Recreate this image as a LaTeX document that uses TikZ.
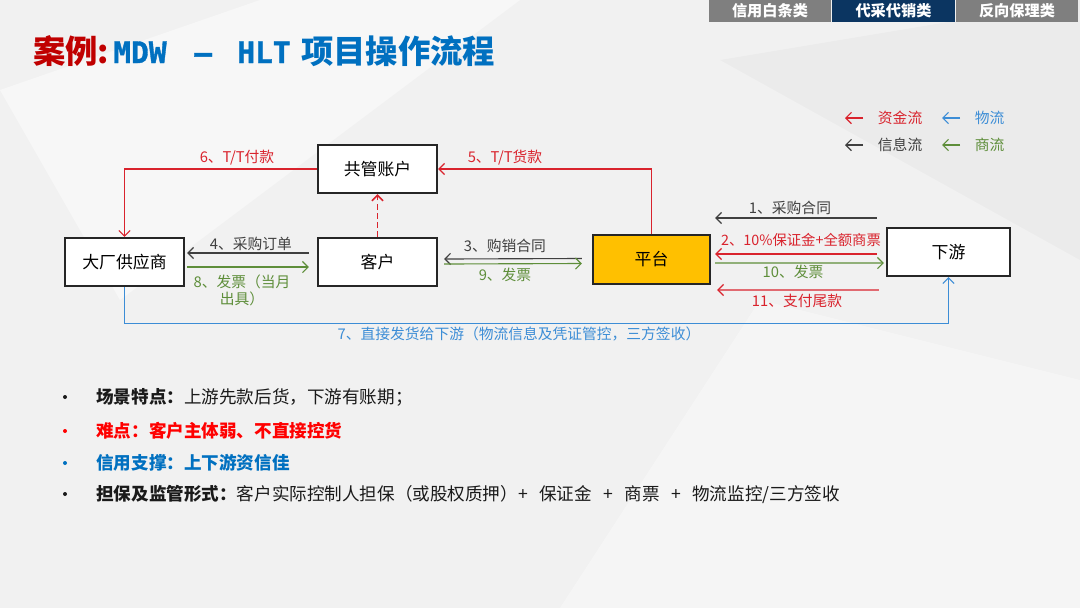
\documentclass[tikz,border=0pt]{standalone}
\usepackage{fontspec}
\setmainfont{Noto Sans CJK SC}
\newfontfamily\titlemono{DejaVu Sans Mono}[BoldFeatures={FakeBold=1.2}]
\usetikzlibrary{arrows.meta,calc,positioning}
\definecolor{bggray}{HTML}{F1F1F1}
\definecolor{tabgray}{HTML}{7F7F7F}
\definecolor{tabnavy}{HTML}{0B3561}
\definecolor{titlered}{HTML}{C00000}
\definecolor{titleblue}{HTML}{0070C0}
\definecolor{boxline}{HTML}{262626}
\definecolor{flowred}{HTML}{D9232D}
\definecolor{flowblue}{HTML}{3C8DD6}
\definecolor{flowgreen}{HTML}{5E8E3A}
\definecolor{flowgray}{HTML}{404040}
\definecolor{platyellow}{HTML}{FFC000}
\definecolor{textdark}{HTML}{1A1A1A}
\newcommand{\plusgap}{\hspace{0.65em}+\hspace{0.65em}}

\begin{document}
\begin{tikzpicture}[x=0.025cm,y=-0.025cm,>={Straight Barb[length=4pt,width=8pt]},
  every node/.style={font=\fontsize{10.5}{12}\selectfont},
  tabbox/.style={text=white,font=\fontsize{10.8}{12}\selectfont\bfseries,minimum width=3.05cm,minimum height=0.55cm,inner sep=0},
  titlepart/.style={anchor=base west,inner sep=0,font=\fontsize{23}{25}\selectfont\bfseries},
  monopart/.style={titlepart,font=\fontsize{21}{24}\selectfont\titlemono\bfseries},
  flowbox/.style={draw=boxline,line width=1.5pt,fill=white,minimum width=2.98cm,minimum height=1.2cm,font=\fontsize{12}{14}\selectfont},
  money/.style={draw=flowred,line width=0.8pt},
  logi/.style={draw=flowblue,line width=0.8pt},
  info/.style={draw=flowgray,line width=0.8pt},
  trade/.style={draw=flowgreen,line width=0.8pt},
  bulletline/.style={anchor=west,inner sep=0,font=\fontsize{12.5}{14}\selectfont}]
\useasboundingbox (0,0) rectangle (1080,608);
\fill[bggray] (0,0) rectangle (1080,608);
% faint facets of the slide background
\fill[white,opacity=0.45] (0,90) -- (260,0) -- (520,0) -- (120,300) -- cycle;
\fill[white,opacity=0.35] (560,608) -- (760,300) -- (1080,380) -- (1080,608) -- cycle;
\fill[black,opacity=0.025] (720,60) -- (1080,0) -- (1080,260) -- cycle;

% tabs
\node[tabbox,fill=tabgray] (tabcredit) at (770,11) {信用白条类};
\node[tabbox,fill=tabnavy] (tabproxy) at (893.5,11) {代采代销类};
\node[tabbox,fill=tabgray] (tabfactor) at (1017,11) {反向保理类};

% title
\node[titlepart,text=titlered] (titlecase) at (33,63) {案例:};
\node[monopart,text=titleblue] (titlemdw) at (113,63) {MDW};
\node[monopart,text=titleblue] (titledash) at (194,63) {–};
\node[monopart,text=titleblue] (titlehlt) at (237,63) {HLT};
\node[titlepart,text=titleblue] (titlerest) at (301,63) {项目操作流程};

% legend
\node[anchor=west,text=flowred] (lgmoney) at (873,118) {资金流};
\node[anchor=west,text=flowblue] (lglogi) at (970,118) {物流};
\node[anchor=west,text=flowgray] (lginfo) at (873,145) {信息流};
\node[anchor=west,text=flowgreen] (lgtrade) at (970,145) {商流};
\draw[money,->] ($(lgmoney.west)+(-10,0)$) -- ++(-18,0);
\draw[logi,->] ($(lglogi.west)+(-10,0)$) -- ++(-18,0);
\draw[info,->] ($(lginfo.west)+(-10,0)$) -- ++(-18,0);
\draw[trade,->] ($(lgtrade.west)+(-10,0)$) -- ++(-18,0);

% parties
\node[flowbox] (gongguan) at (377.5,169) {共管账户};
\node[flowbox] (dachang) at (124.5,262) {大厂供应商};
\node[flowbox] (kehu) at (377.5,262) {客户};
\node[flowbox,fill=platyellow,minimum width=2.93cm,minimum height=1.23cm] (pingtai) at (651.5,259.5) {平台};
\node[flowbox,minimum width=3.08cm] (xiayou) at (948.5,252) {下游};

% flows
\draw[money,->] (gongguan.west) -| (dachang.north);
\draw[money,->] (pingtai.north) |- (gongguan.east);
\draw[money,line width=1.1pt,dash pattern=on 4pt off 2.5pt,->,draw=flowred,color=flowred] (kehu.north) -- (gongguan.south);
\draw[info,->] ($(kehu.west)+(-8,-9)$) -- ($(dachang.east)+(2,-9)$);
\draw[trade,->] ($(dachang.east)+(2,5)$) -- ($(kehu.west)+(-8,5)$);
\draw[info,->] ($(pingtai.west)+(-10,-1)$) -- ($(kehu.east)+(6,-3)$);
\draw[trade,->] ($(kehu.east)+(6,2)$) -- ($(pingtai.west)+(-10,4)$);
\draw[info,->] ($(xiayou.west)+(-9,-34)$) -- ($(pingtai.east)+(4,-41.5)$);
\draw[money,->] ($(xiayou.west)+(-9,2)$) -- ($(pingtai.east)+(4,-5.5)$);
\draw[trade,->] ($(pingtai.east)+(4,3.5)$) -- ($(xiayou.west)+(-2,11)$);
\draw[money,->] ($(xiayou.west)+(-7,38)$) -- ($(pingtai.east)+(6,30.5)$);
\draw[logi,->] (dachang.south) -- ++(0,36) -| (xiayou.south);

% flow labels
\node[text=flowred] (lbsix) at (237,158) {6、T/T付款};
\node[text=flowred] (lbfive) at (505,158) {5、T/T货款};
\node[text=flowgray] (lbfour) at (251,244) {4、采购订单};
\node[text=flowgreen,align=center] (lbeight) at (242,290) {8、发票（当月\\出具）};
\node[text=flowgray] (lbthree) at (505,246) {3、购销合同};
\node[text=flowgreen] (lbnine) at (505,275) {9、发票};
\node[text=flowgray] (lbone) at (790,208) {1、采购合同};
\node[text=flowred,font=\fontsize{10.2}{12}\selectfont] (lbtwo) at (801,240) {2、10\%保证金+全额商票};
\node[text=flowgreen] (lbten) at (793,272) {10、发票};
\node[text=flowred] (lbeleven) at (797,301) {11、支付尾款};
\node[text=flowblue] (lbseven) at (519,334) {7、直接发货给下游（物流信息及凭证管控，三方签收）};

% key points
\fill[textdark] (65,397) circle (2);
\node[bulletline,text=textdark] (ptscene) at (96,397) {\textbf{场景特点：}上游先款后货，下游有账期；};
\fill[red] (65,431) circle (2);
\node[bulletline,text=red] (pthard) at (96,431) {\textbf{难点：客户主体弱、不直接控货}};
\fill[titleblue] (65,463) circle (2);
\node[bulletline,text=titleblue] (ptcredit) at (96,463) {\textbf{信用支撑：上下游资信佳}};
\fill[textdark] (65,494) circle (2);
\node[bulletline,text=textdark] (ptguard) at (96,494) {\textbf{担保及监管形式：}客户实际控制人担保（或股权质押）+\hspace{0.65em}保证金\plusgap 商票\plusgap 物流监控/三方签收};
\end{tikzpicture}
\end{document}
